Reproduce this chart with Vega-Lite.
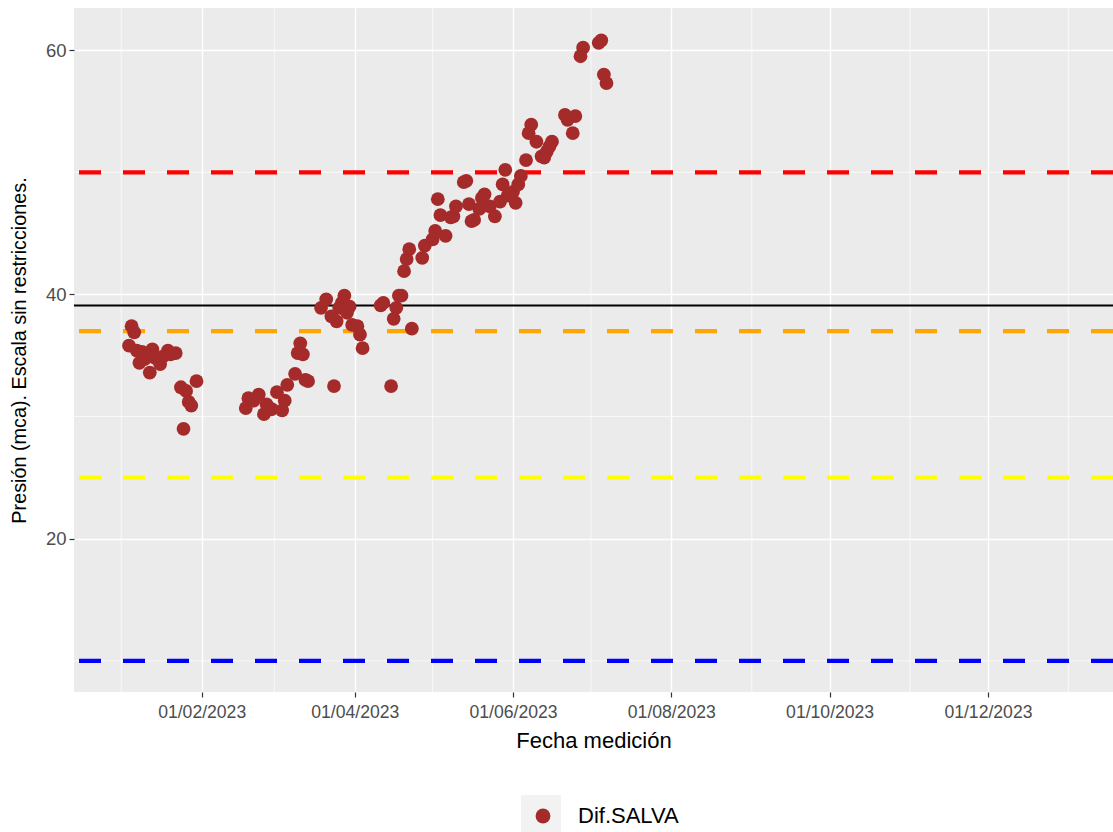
{
  "$schema": "https://vega.github.io/schema/vega-lite/v6.json",
  "width": 1039,
  "height": 684,
  "autosize": "none",
  "padding": {"left": 74, "top": 8, "right": 0, "bottom": 140},
  "background": "white",
  "config": {
    "view": {"fill": "#EBEBEB", "stroke": null},
    "font": "Liberation Sans",
    "axis": {
      "domain": false,
      "gridColor": "#FFFFFF",
      "gridWidth": 1.4,
      "tickColor": "#333333",
      "tickSize": 5,
      "tickWidth": 1.2,
      "labelColor": "#4D4D4D",
      "labelFont": "Liberation Sans",
      "labelFontSize": 17.6,
      "titleFont": "Liberation Sans",
      "titleFontWeight": "normal",
      "titleColor": "#000000"
    }
  },
  "datasets": {
    "medidas": [
      {"fecha": "2023-01-04", "valor": 35.8},
      {"fecha": "2023-01-05", "valor": 37.4},
      {"fecha": "2023-01-06", "valor": 36.9},
      {"fecha": "2023-01-07", "valor": 35.4},
      {"fecha": "2023-01-08", "valor": 34.4},
      {"fecha": "2023-01-09", "valor": 35.3},
      {"fecha": "2023-01-10", "valor": 34.7},
      {"fecha": "2023-01-12", "valor": 33.6},
      {"fecha": "2023-01-13", "valor": 35.5},
      {"fecha": "2023-01-14", "valor": 34.8},
      {"fecha": "2023-01-16", "valor": 34.3},
      {"fecha": "2023-01-17", "valor": 34.9},
      {"fecha": "2023-01-19", "valor": 35.4},
      {"fecha": "2023-01-20", "valor": 35.1},
      {"fecha": "2023-01-22", "valor": 35.2},
      {"fecha": "2023-01-24", "valor": 32.4},
      {"fecha": "2023-01-25", "valor": 29.0},
      {"fecha": "2023-01-26", "valor": 32.1},
      {"fecha": "2023-01-27", "valor": 31.2},
      {"fecha": "2023-01-28", "valor": 30.9},
      {"fecha": "2023-01-30", "valor": 32.9},
      {"fecha": "2023-02-18", "valor": 30.7},
      {"fecha": "2023-02-19", "valor": 31.5},
      {"fecha": "2023-02-21", "valor": 31.3},
      {"fecha": "2023-02-23", "valor": 31.8},
      {"fecha": "2023-02-25", "valor": 30.2},
      {"fecha": "2023-02-26", "valor": 31.0},
      {"fecha": "2023-02-28", "valor": 30.6},
      {"fecha": "2023-03-02", "valor": 32.0},
      {"fecha": "2023-03-04", "valor": 30.5},
      {"fecha": "2023-03-05", "valor": 31.3},
      {"fecha": "2023-03-06", "valor": 32.6},
      {"fecha": "2023-03-09", "valor": 33.5},
      {"fecha": "2023-03-10", "valor": 35.2},
      {"fecha": "2023-03-11", "valor": 36.0},
      {"fecha": "2023-03-12", "valor": 35.1},
      {"fecha": "2023-03-13", "valor": 33.0},
      {"fecha": "2023-03-14", "valor": 32.9},
      {"fecha": "2023-03-19", "valor": 38.9},
      {"fecha": "2023-03-21", "valor": 39.6},
      {"fecha": "2023-03-23", "valor": 38.2},
      {"fecha": "2023-03-24", "valor": 32.5},
      {"fecha": "2023-03-25", "valor": 37.8},
      {"fecha": "2023-03-26", "valor": 38.9},
      {"fecha": "2023-03-27", "valor": 39.3},
      {"fecha": "2023-03-28", "valor": 39.9},
      {"fecha": "2023-03-29", "valor": 38.5},
      {"fecha": "2023-03-30", "valor": 39.0},
      {"fecha": "2023-03-31", "valor": 37.5},
      {"fecha": "2023-04-02", "valor": 37.4},
      {"fecha": "2023-04-03", "valor": 36.7},
      {"fecha": "2023-04-04", "valor": 35.6},
      {"fecha": "2023-04-11", "valor": 39.1},
      {"fecha": "2023-04-12", "valor": 39.3},
      {"fecha": "2023-04-15", "valor": 32.5},
      {"fecha": "2023-04-16", "valor": 38.0},
      {"fecha": "2023-04-17", "valor": 38.9},
      {"fecha": "2023-04-18", "valor": 39.9},
      {"fecha": "2023-04-19", "valor": 39.9},
      {"fecha": "2023-04-20", "valor": 41.9},
      {"fecha": "2023-04-21", "valor": 42.9},
      {"fecha": "2023-04-22", "valor": 43.7},
      {"fecha": "2023-04-23", "valor": 37.2},
      {"fecha": "2023-04-27", "valor": 43.0},
      {"fecha": "2023-04-28", "valor": 44.0},
      {"fecha": "2023-05-01", "valor": 44.5},
      {"fecha": "2023-05-02", "valor": 45.2},
      {"fecha": "2023-05-03", "valor": 47.8},
      {"fecha": "2023-05-04", "valor": 46.5},
      {"fecha": "2023-05-06", "valor": 44.8},
      {"fecha": "2023-05-08", "valor": 46.3},
      {"fecha": "2023-05-09", "valor": 46.4},
      {"fecha": "2023-05-10", "valor": 47.2},
      {"fecha": "2023-05-13", "valor": 49.2},
      {"fecha": "2023-05-14", "valor": 49.3},
      {"fecha": "2023-05-15", "valor": 47.4},
      {"fecha": "2023-05-16", "valor": 46.0},
      {"fecha": "2023-05-17", "valor": 46.1},
      {"fecha": "2023-05-19", "valor": 47.0},
      {"fecha": "2023-05-20", "valor": 47.9},
      {"fecha": "2023-05-21", "valor": 48.2},
      {"fecha": "2023-05-23", "valor": 47.2},
      {"fecha": "2023-05-25", "valor": 46.4},
      {"fecha": "2023-05-27", "valor": 47.6},
      {"fecha": "2023-05-28", "valor": 49.0},
      {"fecha": "2023-05-29", "valor": 50.2},
      {"fecha": "2023-05-30", "valor": 48.1},
      {"fecha": "2023-06-01", "valor": 48.4},
      {"fecha": "2023-06-02", "valor": 47.5},
      {"fecha": "2023-06-03", "valor": 49.0},
      {"fecha": "2023-06-04", "valor": 49.7},
      {"fecha": "2023-06-06", "valor": 51.0},
      {"fecha": "2023-06-07", "valor": 53.2},
      {"fecha": "2023-06-08", "valor": 53.9},
      {"fecha": "2023-06-10", "valor": 52.5},
      {"fecha": "2023-06-12", "valor": 51.3},
      {"fecha": "2023-06-13", "valor": 51.2},
      {"fecha": "2023-06-14", "valor": 51.7},
      {"fecha": "2023-06-15", "valor": 52.1},
      {"fecha": "2023-06-16", "valor": 52.5},
      {"fecha": "2023-06-21", "valor": 54.7},
      {"fecha": "2023-06-22", "valor": 54.3},
      {"fecha": "2023-06-24", "valor": 53.2},
      {"fecha": "2023-06-25", "valor": 54.6},
      {"fecha": "2023-06-27", "valor": 59.5},
      {"fecha": "2023-06-28", "valor": 60.2},
      {"fecha": "2023-07-04", "valor": 60.6},
      {"fecha": "2023-07-05", "valor": 60.8},
      {"fecha": "2023-07-06", "valor": 58.0},
      {"fecha": "2023-07-07", "valor": 57.3}
    ],
    "gridMenorX": [
      {"fecha": "2023-01-01"}, {"fecha": "2023-03-01"}, {"fecha": "2023-05-01"},
      {"fecha": "2023-07-01"}, {"fecha": "2023-09-01"}, {"fecha": "2023-11-01"},
      {"fecha": "2024-01-01"}
    ],
    "gridMenorY": [{"valor": 10}, {"valor": 30}, {"valor": 50}]
  },
  "layer": [
    {
      "data": {"name": "gridMenorX"},
      "mark": {"type": "rule", "color": "#FFFFFF", "strokeWidth": 0.7},
      "encoding": {
        "x": {"field": "fecha", "type": "temporal", "scale": {"type": "utc"}}
      }
    },
    {
      "data": {"name": "gridMenorY"},
      "mark": {"type": "rule", "color": "#FFFFFF", "strokeWidth": 0.7},
      "encoding": {"y": {"field": "valor", "type": "quantitative"}}
    },
    {
      "data": {"values": [{"valor": 50}]},
      "mark": {"type": "rule", "color": "#FF0000", "strokeWidth": 4.2, "strokeDash": [22, 22]},
      "encoding": {"y": {"field": "valor", "type": "quantitative"}}
    },
    {
      "data": {"values": [{"valor": 37}]},
      "mark": {"type": "rule", "color": "#FFA500", "strokeWidth": 4.2, "strokeDash": [22, 22]},
      "encoding": {"y": {"field": "valor", "type": "quantitative"}}
    },
    {
      "data": {"values": [{"valor": 25}]},
      "mark": {"type": "rule", "color": "#FFFF00", "strokeWidth": 4.2, "strokeDash": [22, 22]},
      "encoding": {"y": {"field": "valor", "type": "quantitative"}}
    },
    {
      "data": {"values": [{"valor": 10}]},
      "mark": {"type": "rule", "color": "#0000FF", "strokeWidth": 4.2, "strokeDash": [22, 22]},
      "encoding": {"y": {"field": "valor", "type": "quantitative"}}
    },
    {
      "data": {"values": [{"valor": 39.1}]},
      "mark": {"type": "rule", "color": "#000000", "strokeWidth": 2},
      "encoding": {"y": {"field": "valor", "type": "quantitative"}}
    },
    {
      "data": {"name": "medidas"},
      "transform": [
        {"calculate": "'Dif.SALVA'", "as": "serie"},
        {"calculate": "'k'", "as": "clave"}
      ],
      "mark": {"type": "point", "filled": true, "size": 190, "strokeWidth": 0},
      "encoding": {
        "x": {
          "field": "fecha",
          "type": "temporal",
          "title": "Fecha medición",
          "scale": {
            "type": "utc",
            "domain": [
              {"year": 2022, "month": 12, "date": 13, "hours": 19, "minutes": 12, "utc": true},
              {"year": 2024, "month": 1, "date": 18, "hours": 4, "minutes": 48, "utc": true}
            ]
          },
          "axis": {
            "values": [
              {"year": 2023, "month": 2, "date": 1, "utc": true},
              {"year": 2023, "month": 4, "date": 1, "utc": true},
              {"year": 2023, "month": 6, "date": 1, "utc": true},
              {"year": 2023, "month": 8, "date": 1, "utc": true},
              {"year": 2023, "month": 10, "date": 1, "utc": true},
              {"year": 2023, "month": 12, "date": 1, "utc": true}
            ],
            "labelExpr": "utcFormat(datum.value, '%d/%m/%Y')",
            "labelPadding": 6,
            "titleFontSize": 22,
            "titlePadding": 10
          }
        },
        "y": {
          "field": "valor",
          "type": "quantitative",
          "title": "Presión (mca). Escala sin restricciones.",
          "scale": {"domain": [7.45, 63.45], "nice": false, "zero": false},
          "axis": {
            "values": [20, 40, 60],
            "labelPadding": 3,
            "labelFontSize": 18.5,
            "titleFontSize": 19.8,
            "titlePadding": 16
          }
        },
        "opacity": {
          "field": "clave",
          "type": "nominal",
          "scale": {"range": [1]},
          "legend": {
            "title": null,
            "orient": "none",
            "legendX": 447,
            "legendY": 787,
            "symbolType": "square",
            "symbolSize": 1600,
            "symbolFillColor": "#F2F2F2",
            "symbolStrokeColor": "#F2F2F2",
            "symbolStrokeWidth": 0,
            "symbolOpacity": 1,
            "labelExpr": "''",
            "labelFontSize": 1,
            "zindex": 1
          }
        },
        "color": {
          "field": "serie",
          "type": "nominal",
          "scale": {"range": ["#A52A2A"]},
          "legend": {
            "title": null,
            "orient": "none",
            "legendX": 458,
            "legendY": 797,
            "symbolType": "circle",
            "symbolSize": 220,
            "symbolStrokeWidth": 0,
            "symbolOpacity": 1,
            "labelFontSize": 22,
            "labelColor": "#000000",
            "labelFont": "Liberation Sans",
            "labelOffset": 24,
            "zindex": 2
          }
        }
      }
    }
  ]
}
